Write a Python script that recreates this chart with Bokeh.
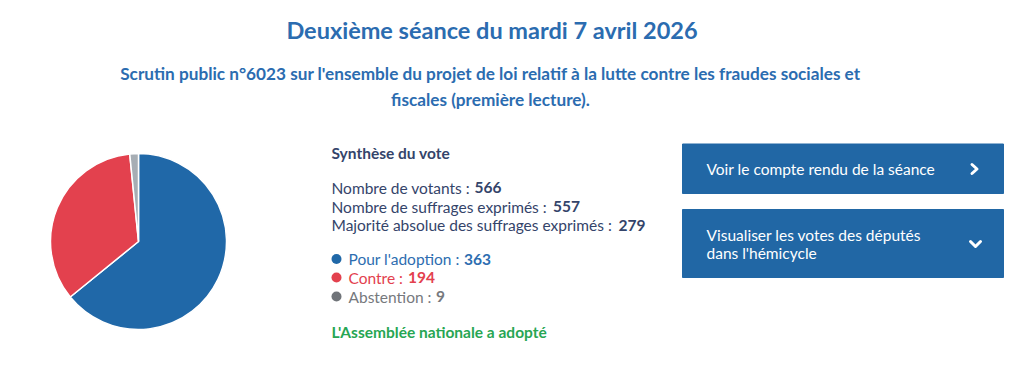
import math
from bokeh.plotting import figure
from bokeh.models import Range1d, ColumnDataSource
from bokeh.core.properties import value
from bokeh.embed import file_html
from bokeh.resources import INLINE

# ---- data ----
title = "Deuxième séance du mardi 7 avril 2026"
subtitle_lines = [
    "Scrutin public n°6023 sur l'ensemble du projet de loi relatif à la lutte contre les fraudes sociales et",
    "fiscales (première lecture).",
]
section_title = "Synthèse du vote"
summary_labels = [
    "Nombre de votants : ",
    "Nombre de suffrages exprimés : ",
    "Majorité absolue des suffrages exprimés : ",
]
summary_values = [566, 557, 279]
vote_labels = ["Pour l'adoption : ", "Contre : ", "Abstention : "]
vote_counts = [363, 194, 9]
vote_colors = ["#2068a8", "#e3414e", "#a6adb4"]
vote_text_colors = ["#2d6db0", "#e3414e", "#76797d"]
vote_dot_colors = ["#2068a8", "#e3414e", "#707479"]
result_text = "L'Assemblée nationale a adopté"
button_1 = ["Voir le compte rendu de la séance"]
button_2 = ["Visualiser les votes des députés", "dans l'hémicycle"]

W, H = 1008, 370
FONT = value("Lato")
DARK = "#34446a"
BTN = "#2167a5"
BODY = "15.5px"


def Y(y):
    return H - y


p = figure(width=W, height=H, x_range=Range1d(0, W), y_range=Range1d(0, H),
           output_backend="svg", toolbar_location=None, min_border=0,
           x_axis_type=None, y_axis_type=None)
p.grid.visible = False
p.outline_line_color = None
p.background_fill_color = "white"
p.border_fill_color = "white"

# ---- titles ----
p.text(x=[491.5], y=[Y(29)], text=[title], text_font=FONT, text_font_size="23.5px",
       text_font_style="bold", text_color="#2b6cb0", text_align="center", text_baseline="middle")
p.text(x=[490, 490], y=[Y(73), Y(99)], text=subtitle_lines, text_font=FONT, text_font_size="17.2px",
       text_font_style="bold", text_color="#2b6cb0", text_align="center", text_baseline="middle")

# ---- pie ----
total = sum(vote_counts)
starts, ends = [], []
a = math.pi / 2
for c in vote_counts:
    starts.append(a)
    a = a - c / total * 2 * math.pi
    ends.append(a)
pie = ColumnDataSource(dict(start=starts, end=ends, color=vote_colors))
p.wedge(x=138, y=Y(241), radius=88, start_angle="start", end_angle="end", direction="clock",
        fill_color="color", line_color="white", line_width=1.5, source=pie)

# ---- synthesis ----
p.text(x=[331], y=[Y(152)], text=[section_title], text_font=FONT, text_font_size=BODY,
       text_font_style="bold", text_color=DARK, text_baseline="middle")
sy = [Y(187), Y(206), Y(224.5)]
p.text(x=[331] * 3, y=sy, text=summary_labels, text_font=FONT, text_font_size=BODY,
       text_color=DARK, text_baseline="middle")
p.text(x=[474, 552.5, 618], y=sy, text=[str(v) for v in summary_values], text_font=FONT,
       text_font_size=BODY, text_font_style="bold", text_color=DARK, text_baseline="middle")

vy = [Y(258.5), Y(277), Y(296)]
p.scatter(x=[336] * 3, y=vy, size=10, marker="circle", fill_color=vote_dot_colors, line_color=None)
p.text(x=[348] * 3, y=vy, text=vote_labels, text_font=FONT, text_font_size=BODY,
       text_color=vote_text_colors, text_baseline="middle")
p.text(x=[463.5, 407.5, 435.5], y=vy, text=[str(v) for v in vote_counts], text_font=FONT,
       text_font_size=BODY, text_font_style="bold", text_color=vote_text_colors,
       text_baseline="middle")

p.text(x=[331], y=[Y(331)], text=[result_text], text_font=FONT, text_font_size=BODY,
       text_font_style="bold", text_color="#27a653", text_baseline="middle")

# ---- buttons ----
p.quad(left=[682, 682], right=[1003, 1003], top=[Y(143.5), Y(209)], bottom=[Y(193), Y(277)],
       fill_color=BTN, line_color=BTN)
p.text(x=[706], y=[Y(168.5)], text=button_1, text_font=FONT, text_font_size=BODY,
       text_color="white", text_baseline="middle")
p.text(x=[706, 706], y=[Y(234), Y(252)], text=button_2, text_font=FONT, text_font_size=BODY,
       text_color="white", text_baseline="middle")
p.multi_line(xs=[[971.5, 976.5, 971.5], [970, 975, 980]],
             ys=[[Y(164), Y(168.5), Y(173)], [Y(241), Y(246), Y(241)]],
             line_color="white", line_width=3, line_cap="round", line_join="round")

open("out.html", "w").write(file_html(p, INLINE))
